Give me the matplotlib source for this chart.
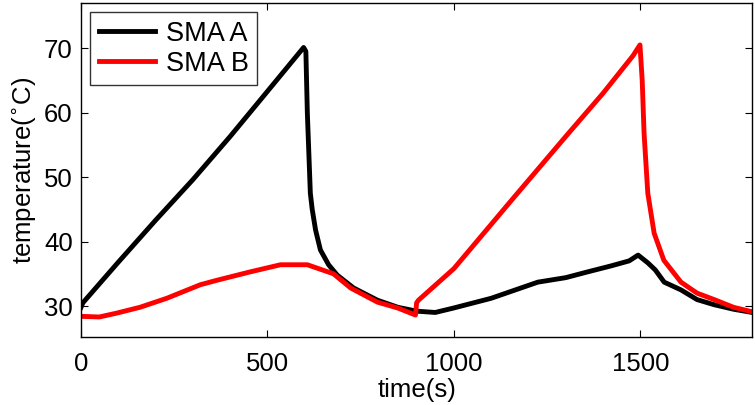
import matplotlib.pyplot as plt

plt.rcParams['font.family'] = ['Liberation Sans', 'DejaVu Sans']

# SMA A (black)
t_a = [0, 5, 100, 200, 300, 400, 500, 597, 603, 607, 615, 620, 629, 642, 664, 687, 731,
       795, 850, 900, 950, 1000, 1100, 1225, 1300, 1359, 1420, 1470, 1494, 1520, 1540,
       1564, 1609, 1652, 1698, 1750, 1800]
temp_a = [29.8, 30.5, 36.8, 43.3, 49.6, 56.3, 63.3, 70.1, 69.5, 59.9, 47.5, 45.0, 41.8,
          38.7, 36.4, 34.8, 32.8, 30.9, 29.8, 29.2, 29.0, 29.7, 31.2, 33.7, 34.4, 35.3,
          36.2, 37.0, 37.9, 36.7, 35.6, 33.7, 32.5, 31.0, 30.2, 29.5, 29.0]

# SMA B (red)
t_b = [0, 49, 96, 158, 230, 320, 365, 454, 535, 607, 677, 723, 795, 849, 897, 900, 905,
       1000, 1153, 1300, 1400, 1480, 1499, 1505, 1510, 1520, 1537, 1563, 1609, 1652,
       1698, 1750, 1800]
temp_b = [28.4, 28.3, 28.9, 29.8, 31.2, 33.3, 34.0, 35.3, 36.4, 36.4, 35.0, 32.8, 30.6,
          29.7, 28.6, 30.5, 30.9, 35.8, 46.3, 56.3, 63.0, 68.8, 70.5, 65.0, 56.8, 47.5,
          41.3, 37.1, 33.7, 32.0, 31.0, 29.8, 29.1]

fig = plt.figure(figsize=(7.55, 4.05), dpi=100)
ax = fig.add_axes([0.1073, 0.168, 0.889, 0.8246])
ax.plot(t_a, temp_a, color='black', lw=3.5, label='SMA A')
ax.plot(t_b, temp_b, color='red', lw=3.5, label='SMA B')

ax.set_xlim(0, 1800)
ax.set_ylim(25.2, 77)
ax.set_xticks([0, 500, 1000, 1500])
ax.set_yticks([30, 40, 50, 60, 70])
ax.tick_params(direction='in', top=True, right=True, length=5, labelsize=18.5)
ax.tick_params(axis='x', pad=11)
ax.tick_params(axis='y', pad=6)
for s in ax.spines.values():
    s.set_linewidth(1.0)

ax.set_xlabel('time(s)', fontsize=18.5, labelpad=1)
ax.set_ylabel(r'temperature($^{\circ}$C)', fontsize=18.5, labelpad=4)

leg = ax.legend(loc='upper left', fontsize=19.5, frameon=True, fancybox=False,
                handlelength=2.1, borderaxespad=0.35, borderpad=0.3,
                labelspacing=0.15, handletextpad=0.4)
leg.get_frame().set_edgecolor('black')
leg.get_frame().set_linewidth(1.0)

fig.savefig('out.png', dpi=100)
